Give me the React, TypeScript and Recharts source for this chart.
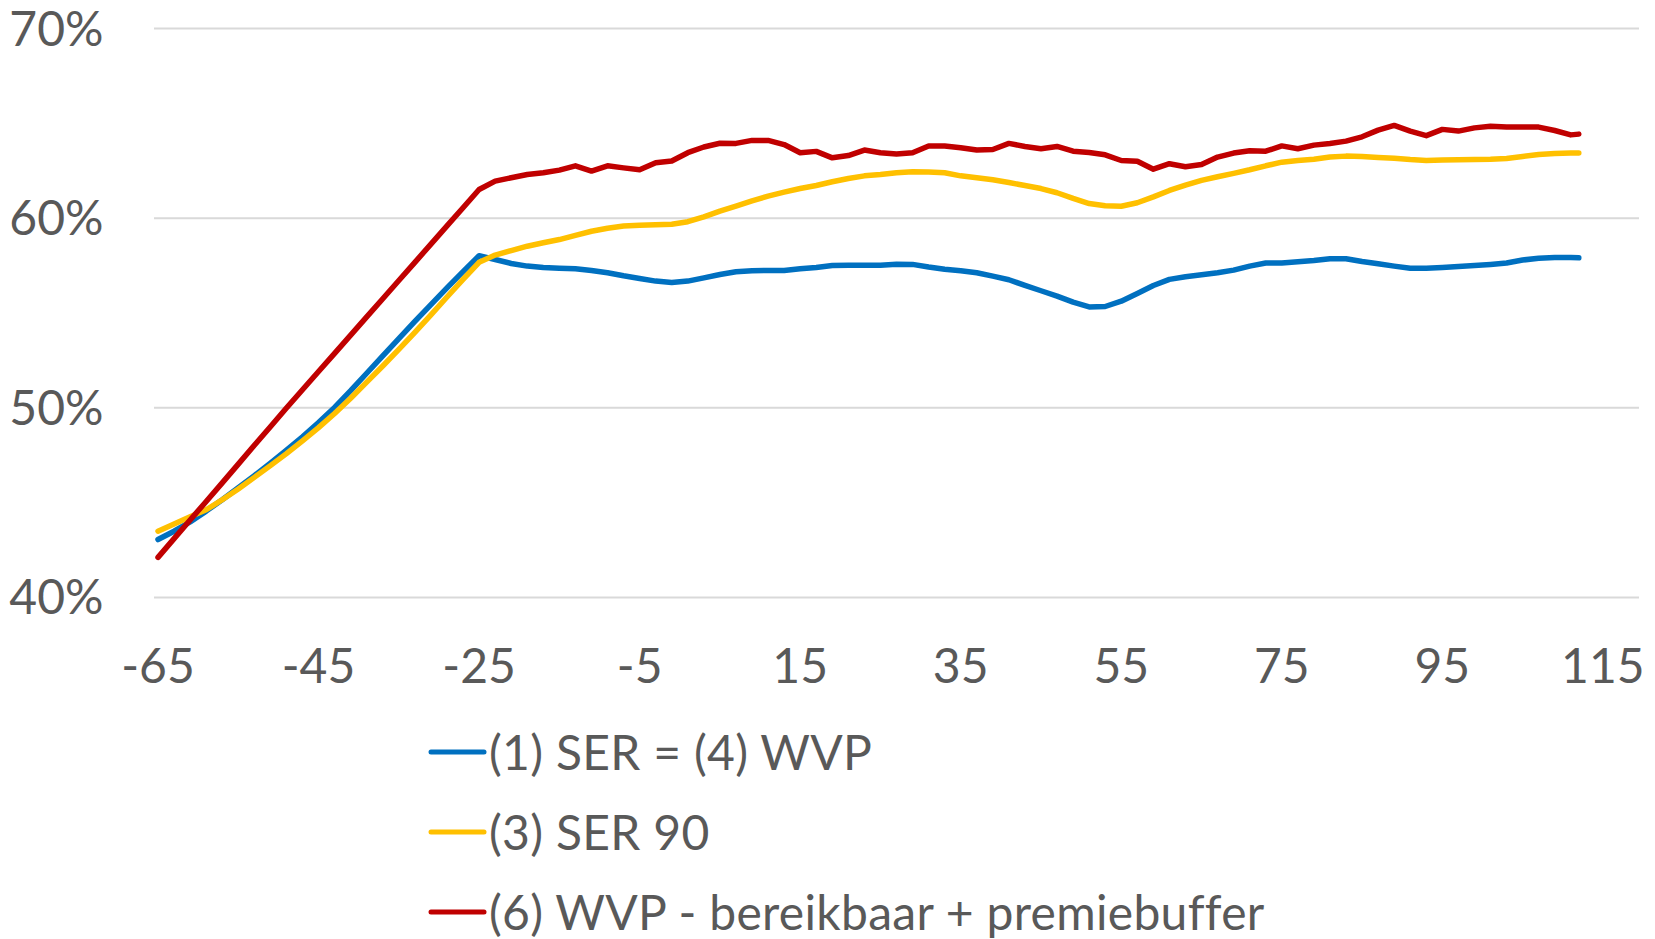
import React from 'react';
import { LineChart, Line, XAxis, YAxis, CartesianGrid, Legend } from 'recharts';

const xValues = [
  -65, -63, -61, -59, -57, -55, -53, -51, -49, -47, -45, -43, -41, -39, -37, -35, -33, -31, -29, -27,
  -25, -23, -21, -19, -17, -15, -13, -11, -9, -7, -5, -3, -1, 1, 3, 5, 7, 9, 11, 13,
  15, 17, 19, 21, 23, 25, 27, 29, 31, 33, 35, 37, 39, 41, 43, 45, 47, 49, 51, 53,
  55, 57, 59, 61, 63, 65, 67, 69, 71, 73, 75, 77, 79, 81, 83, 85, 87, 89, 91, 93,
  95, 97, 99, 101, 103, 105, 107, 109, 111, 112,
];

const serWvp = [
  43.05, 43.49, 43.98, 44.55, 45.15, 45.78, 46.42, 47.08, 47.76, 48.47, 49.22, 50.02, 50.9, 51.82, 52.74, 53.65, 54.56, 55.44, 56.32, 57.18,
  58.02, 57.82, 57.61, 57.47, 57.4, 57.36, 57.33, 57.24, 57.12, 56.96, 56.82, 56.68, 56.61, 56.68, 56.85, 57.03, 57.17, 57.22, 57.24, 57.24,
  57.33, 57.4, 57.5, 57.52, 57.52, 57.52, 57.57, 57.56, 57.42, 57.3, 57.22, 57.12, 56.94, 56.75, 56.45, 56.17, 55.89, 55.57, 55.32, 55.34,
  55.62, 56.03, 56.45, 56.77, 56.91, 57.01, 57.12, 57.26, 57.47, 57.63, 57.64, 57.7, 57.77, 57.86, 57.86, 57.71, 57.59, 57.47, 57.36, 57.36,
  57.4, 57.45, 57.5, 57.56, 57.63, 57.79, 57.89, 57.93, 57.93, 57.91,
];

const ser90 = [
  43.49, 43.87, 44.25, 44.62, 45.15, 45.72, 46.33, 46.95, 47.58, 48.25, 48.95, 49.7, 50.5, 51.35, 52.2, 53.08, 53.98, 54.9, 55.84, 56.77,
  57.67, 58.05, 58.29, 58.52, 58.7, 58.87, 59.09, 59.31, 59.47, 59.58, 59.63, 59.65, 59.68, 59.81, 60.07, 60.37, 60.63, 60.91, 61.16, 61.37,
  61.56, 61.72, 61.92, 62.09, 62.23, 62.3, 62.39, 62.44, 62.43, 62.39, 62.23, 62.13, 62.02, 61.88, 61.72, 61.56, 61.34, 61.04, 60.77, 60.65,
  60.63, 60.81, 61.12, 61.46, 61.74, 61.99, 62.18, 62.36, 62.55, 62.76, 62.95, 63.04, 63.11, 63.22, 63.27, 63.25, 63.2, 63.16, 63.09, 63.04,
  63.06, 63.08, 63.09, 63.11, 63.15, 63.25, 63.36, 63.41, 63.43, 63.43,
];

const wvpPremie = [
  42.11, 43.1, 44.08, 45.06, 46.04, 47.03, 48.02, 49.0, 49.99, 50.95, 51.91, 52.87, 53.83, 54.79, 55.75, 56.71, 57.67, 58.63, 59.59, 60.55,
  61.51, 61.95, 62.13, 62.3, 62.39, 62.53, 62.76, 62.48, 62.76, 62.65, 62.55, 62.92, 63.01, 63.45, 63.75, 63.95, 63.94, 64.1, 64.1, 63.88,
  63.45, 63.52, 63.18, 63.3, 63.59, 63.45, 63.38, 63.45, 63.8, 63.8, 63.71, 63.59, 63.62, 63.94, 63.78, 63.66, 63.78, 63.53, 63.46, 63.34,
  63.04, 63.0, 62.58, 62.87, 62.71, 62.83, 63.22, 63.43, 63.55, 63.53, 63.81, 63.66, 63.85, 63.94, 64.06, 64.29, 64.64, 64.89, 64.59, 64.35,
  64.68, 64.59, 64.76, 64.85, 64.8, 64.8, 64.8, 64.62, 64.39, 64.43,
];

const seriesNames = ['(1) SER = (4) WVP', '(3) SER 90', '(6) WVP - bereikbaar + premiebuffer'];
const seriesColors = ['#0070C0', '#FFC000', '#C00000'];
const xTicks = [-65, -45, -25, -5, 15, 35, 55, 75, 95, 115];
const yTicks = [40, 50, 60, 70];

const data = xValues.map((x, i) => ({ x, s1: serWvp[i], s3: ser90[i], s6: wvpPremie[i] }));

const FONT = "Lato, 'Open Sans', sans-serif";
const TEXT = '#595959';

function LegendContent(props: any) {
  const payload = props.payload || [];
  return (
    <div style={{ fontFamily: FONT, color: TEXT, fontSize: 48 }}>
      {payload.map((p: any) => (
        <div key={p.value} style={{ display: 'flex', alignItems: 'center', height: 80 }}>
          <svg width={59} height={10} style={{ display: 'block' }}>
            <line x1={3} y1={5} x2={56} y2={5} stroke={p.color} strokeWidth={5} strokeLinecap="round" />
          </svg>
          <span style={{ whiteSpace: 'nowrap', lineHeight: '80px', marginLeft: 2, letterSpacing: 0.3 }}>{p.value}</span>
        </div>
      ))}
    </div>
  );
}

export default function App() {
  return (
    <div style={{ position: 'absolute', left: 0, top: 0, width: 1655, height: 939, background: '#fff' }}>
      <LineChart
        width={1655}
        height={939}
        data={data}
        margin={{ top: 28.5, right: 16, left: 0, bottom: 271.6 }}
      >
        <CartesianGrid vertical={false} stroke="#D9D9D9" strokeWidth={2} />
        <XAxis
          dataKey="x"
          type="number"
          domain={[-65.5, 119.5]}
          ticks={xTicks}
          interval={0}
          height={70}
          axisLine={false}
          tickLine={false}
          tickSize={0}
          tickMargin={52}
          tick={{ fill: TEXT, fontSize: 48, fontFamily: FONT }}
        />
        <YAxis
          type="number"
          domain={[40, 70]}
          ticks={yTicks}
          interval={0}
          width={154}
          axisLine={false}
          tickLine={false}
          tickSize={0}
          tickMargin={50.5}
          tickFormatter={(v: number) => `${v}%`}
          tick={{ fill: TEXT, fontSize: 48, fontFamily: FONT }}
        />
        <Legend
          layout="vertical"
          align="center"
          verticalAlign="middle"
          content={<LegendContent />}
          wrapperStyle={{ left: 428, top: 712, width: 900, height: 240 }}
        />
        <Line
          name={seriesNames[0]}
          dataKey="s1"
          type="linear"
          stroke={seriesColors[0]}
          strokeWidth={5.5}
          strokeLinecap="round"
          strokeLinejoin="round"
          dot={false}
          activeDot={false}
          isAnimationActive={false}
        />
        <Line
          name={seriesNames[1]}
          dataKey="s3"
          type="linear"
          stroke={seriesColors[1]}
          strokeWidth={5.5}
          strokeLinecap="round"
          strokeLinejoin="round"
          dot={false}
          activeDot={false}
          isAnimationActive={false}
        />
        <Line
          name={seriesNames[2]}
          dataKey="s6"
          type="linear"
          stroke={seriesColors[2]}
          strokeWidth={5.5}
          strokeLinecap="round"
          strokeLinejoin="round"
          dot={false}
          activeDot={false}
          isAnimationActive={false}
        />
      </LineChart>
    </div>
  );
}
